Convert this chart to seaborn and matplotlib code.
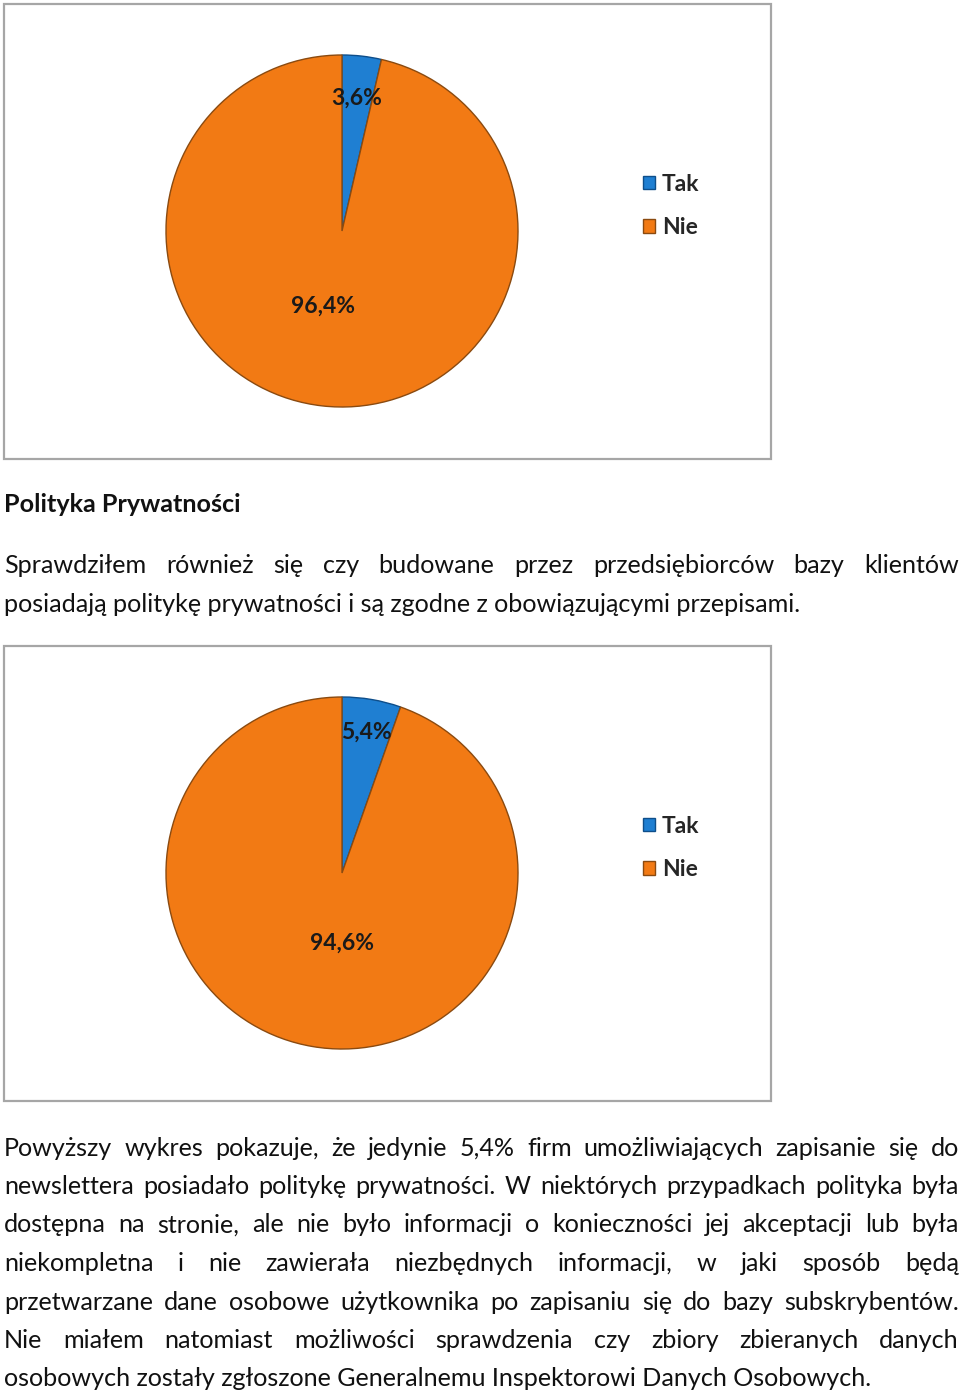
import matplotlib
matplotlib.use("Agg")
import matplotlib.pyplot as plt
import seaborn as sns
import numpy as np
from matplotlib.patches import Rectangle
from matplotlib.font_manager import FontProperties

sns.set_theme(style="white")
plt.rcParams['font.family'] = ['Lato', 'DejaVu Sans']

# ---- data ----
categories = ["Tak", "Nie"]
chart1_values = [3.6, 96.4]
chart2_values = [5.4, 94.6]
colors = ["#1F7FD2", "#F27A14"]

heading = "Polityka Prywatności"
para1_lines = [
    "Sprawdziłem również się czy budowane przez przedsiębiorców bazy klientów",
    "posiadają politykę prywatności i są zgodne z obowiązującymi przepisami.",
]
para1_justify = [True, False]
para2_lines = [
    "Powyższy wykres pokazuje, że jedynie 5,4% firm umożliwiających zapisanie się do",
    "newslettera posiadało politykę prywatności. W niektórych przypadkach polityka była",
    "dostępna na stronie, ale nie było informacji o konieczności jej akceptacji lub była",
    "niekompletna i nie zawierała niezbędnych informacji, w jaki sposób będą",
    "przetwarzane dane osobowe użytkownika po zapisaniu się do bazy subskrybentów.",
    "Nie miałem natomiast możliwości sprawdzenia czy zbiory zbieranych danych",
    "osobowych zostały zgłoszone Generalnemu Inspektorowi Danych Osobowych.",
]
para2_justify = [True, True, True, True, True, True, False]

W, H = 960, 1393
fig = plt.figure(figsize=(W / 100, H / 100), dpi=100)
fig.patch.set_facecolor("white")


def fx(x):
    return x / W


def fy(y):
    return 1 - y / H


def draw_chart(top, values, label_pos):
    # frame
    fig.add_artist(Rectangle((fx(4), fy(top + 455)), fx(767), 455 / H,
                             transform=fig.transFigure, fill=False,
                             edgecolor="#A6A6A6", lw=1.6))
    cx, cy, r = 342, top + 227, 176
    ax = fig.add_axes([fx(cx - r), fy(cy + r), 2 * r / W, 2 * r / H])
    wedges, _ = ax.pie(values, colors=colors, startangle=90, counterclock=False,
                       wedgeprops=dict(edgecolor="#8A4A10", linewidth=1.0))
    wedges[0].set_edgecolor("#0E4E8A")
    ax.set_xlim(-1, 1)
    ax.set_ylim(-1, 1)
    ax.set_aspect("equal")
    ax.axis("off")
    for w, v, (lr, dang) in zip(wedges, values, label_pos):
        ang = np.deg2rad((w.theta1 + w.theta2) / 2 + dang)
        ax.text(lr * np.cos(ang), lr * np.sin(ang), f"{v:.1f}%".replace(".", ","),
                ha="center", va="center", fontsize=16.5, fontweight="bold",
                color="#1a1a1a")
    ax.legend(wedges, categories, loc="center left",
              bbox_to_anchor=(fx(622), fy(top + 202)), bbox_transform=fig.transFigure,
              frameon=False, handlelength=0.55, handleheight=0.55, handletextpad=0.3,
              labelspacing=1.0, prop=FontProperties(family="Lato", weight="bold", size=16.5))


draw_chart(4, chart1_values, [(0.76, 0), (0.44, -8)])
draw_chart(646, chart2_values, [(0.81, 0), (0.40, 10)])

# ---- text ----
renderer = fig.canvas.get_renderer()
FS = 18.1
LEFT, RIGHT = 4, 959


def text_width(s, **kw):
    t = fig.text(0, 0, s, fontsize=FS, **kw)
    w = t.get_window_extent(renderer).width
    t.remove()
    return w


def draw_line(s, y, justify, **kw):
    if not justify:
        fig.text(fx(LEFT), fy(y), s, fontsize=FS, va="center", ha="left",
                 color="#111111", **kw)
        return
    words = s.split(" ")
    widths = [text_width(wd, **kw) for wd in words]
    gap = (RIGHT - LEFT - sum(widths)) / (len(words) - 1)
    x = LEFT
    for wd, w in zip(words, widths):
        fig.text(fx(x), fy(y), wd, fontsize=FS, va="center", ha="left",
                 color="#111111", **kw)
        x += w + gap


fig.text(fx(LEFT), fy(505), heading, fontsize=FS, fontweight="bold",
         va="center", ha="left", color="#111111")
for i, (s, j) in enumerate(zip(para1_lines, para1_justify)):
    draw_line(s, 566 + i * 38.5, j)
for i, (s, j) in enumerate(zip(para2_lines, para2_justify)):
    draw_line(s, 1148 + i * 38.5, j)

fig.savefig("out.png", dpi=100, facecolor="white")
